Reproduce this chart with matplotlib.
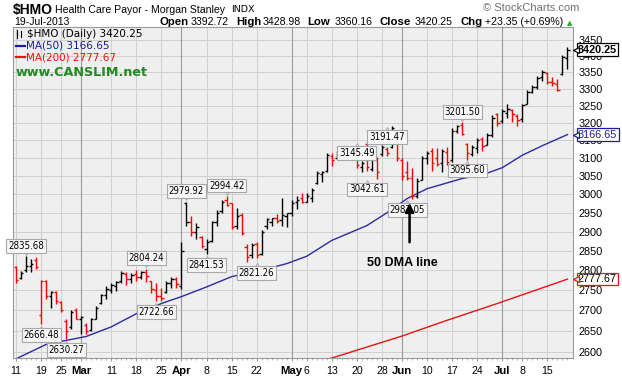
import matplotlib
matplotlib.use('Agg')
import matplotlib.pyplot as plt
import numpy as np
import pandas as pd
from matplotlib.ticker import FixedLocator, FixedFormatter, NullLocator

# ---------------- data ----------------
holidays = ['2013-02-18', '2013-03-29', '2013-05-27', '2013-07-04']
dates = pd.bdate_range('2013-02-11', '2013-07-19')
dates = dates[~dates.isin(pd.to_datetime(holidays))]

prev_close = 2800.0
opens = [2808, 2780, 2800, 2810, 2826, 2689, 2772, 2735, 2745, 2720,
         2675, 2660, 2700, 2680, 2665, 2652, 2680, 2718, 2738, 2750,
         2760, 2772, 2790, 2778, 2790, 2782, 2796, 2772, 2750, 2735,
         2745, 2768, 2778, 2760, 2975, 2925, 2900, 2885, 2855, 2875,
         2925, 2955, 2985, 2975, 2915, 2945, 2860, 2838, 2868, 2842,
         2915, 2925, 2935, 2930, 2940, 2950, 2978, 2990, 2980, 2990,
         3030, 3055, 3065, 3105, 3100, 3110, 3125, 3110, 3100, 3075,
         3140, 3070, 3095, 3110, 3125, 3130, 3175, 3095, 3060, 3045,
         2995, 3040, 3100, 3120, 3100, 3085, 3118, 3095, 3178, 3195,
         3140, 3110, 3128, 3155, 3138, 3165, 3225, 3205, 3230, 3238,
         3220, 3212, 3255, 3290, 3305, 3335, 3348, 3322, 3315, 3345,
         3392.72]
highs = [2811, 2798, 2835.68, 2830, 2833, 2775, 2775, 2749, 2749, 2724,
         2679, 2700, 2705, 2687, 2669, 2682, 2710, 2741, 2761, 2769,
         2774, 2798, 2795, 2792, 2800, 2798, 2804.24, 2774, 2767, 2755,
         2774, 2782, 2782, 2872, 2979.92, 2942, 2924, 2889, 2881, 2929,
         2956, 2983, 2994.42, 2977, 2963, 2950, 2868, 2871, 2873, 2903,
         2937, 2937, 2947, 2991, 2950, 2983, 2994, 3004, 3002, 3016,
         3065, 3065, 3113, 3113, 3121, 3130, 3130, 3121, 3107, 3093,
         3145.49, 3107, 3102, 3136, 3130, 3191.47, 3176, 3099, 3093, 3073,
         3043, 3107, 3121, 3127, 3127, 3126, 3130, 3185, 3195, 3201.50,
         3142, 3137, 3157, 3160, 3171, 3222, 3229, 3242, 3257, 3242,
         3226, 3257, 3296, 3312, 3338, 3357, 3350, 3335, 3330, 3403,
         3428.98]
lows = [2769, 2778, 2795, 2795, 2804, 2666.48, 2729, 2707, 2716, 2695,
        2630.27, 2655, 2678, 2643, 2643, 2650, 2679, 2716, 2729, 2744,
        2749, 2769, 2762, 2769, 2774, 2778, 2770, 2744, 2722.66, 2724,
        2742, 2755, 2755, 2752, 2916, 2889, 2880, 2857, 2841.53, 2872,
        2916, 2950, 2968, 2908, 2908, 2892, 2821.26, 2832, 2832, 2840,
        2908, 2916, 2924, 2916, 2911, 2942, 2961, 2975, 2978, 2980,
        3029, 3032, 3060, 3079, 3099, 3099, 3102, 3099, 3073, 3060,
        3065, 3065, 3042.61, 3107, 3107, 3127, 3093, 3038, 3038, 2987.05,
        2990, 3038, 3084, 3065, 3078, 3060, 3081, 3090, 3170, 3165,
        3095.60, 3105, 3115, 3120, 3137, 3160, 3191, 3200, 3216, 3204,
        3191, 3204, 3255, 3288, 3300, 3325, 3315, 3310, 3293, 3341,
        3360.16]
closes = [2776, 2792, 2812, 2815, 2808, 2772, 2735, 2745, 2724, 2700,
          2650, 2695, 2680, 2684, 2650, 2678, 2706, 2738, 2752, 2762,
          2770, 2792, 2778, 2788, 2782, 2796, 2785, 2752, 2735, 2730,
          2768, 2778, 2765, 2850, 2925, 2900, 2912, 2862, 2872, 2925,
          2950, 2978, 2972, 2912, 2940, 2895, 2835, 2865, 2840, 2898,
          2932, 2935, 2928, 2945, 2948, 2975, 2985, 2980, 2995, 3012,
          3058, 3062, 3108, 3095, 3115, 3125, 3110, 3105, 3080, 3085,
          3075, 3100, 3060, 3132, 3115, 3185, 3100, 3050, 3045, 2995,
          3035, 3100, 3115, 3085, 3082, 3120, 3090, 3178, 3190, 3168,
          3115, 3130, 3150, 3135, 3165, 3215, 3200, 3235, 3240, 3225,
          3210, 3252, 3290, 3305, 3332, 3350, 3322, 3318, 3298, 3396.90,
          3420.25]

ma50_dates = ['2013-02-11', '2013-02-20', '2013-03-04', '2013-03-11', '2013-03-18',
              '2013-03-25', '2013-04-01', '2013-04-08', '2013-04-15', '2013-04-22',
              '2013-04-30', '2013-05-06', '2013-05-13', '2013-05-22', '2013-05-29',
              '2013-06-04', '2013-06-10', '2013-06-19', '2013-06-25', '2013-07-01',
              '2013-07-08', '2013-07-12', '2013-07-19']
ma50_vals = [2584, 2618, 2637, 2660, 2692, 2717, 2734, 2758, 2784, 2797,
             2817, 2836, 2877, 2916, 2950, 2988, 3015, 3043, 3053, 3073,
             3108, 3135, 3166.65]
ma200_dates = ['2013-05-08', '2013-05-13', '2013-06-03', '2013-06-14',
               '2013-06-28', '2013-07-19']
ma200_vals = [2575, 2586, 2638, 2676, 2717, 2777.67]

tick_dates = ['2013-02-11', '2013-02-19', '2013-02-25', '2013-03-01', '2013-03-11',
              '2013-03-18', '2013-03-25', '2013-04-01', '2013-04-08', '2013-04-15',
              '2013-04-22', '2013-05-01', '2013-05-06', '2013-05-13', '2013-05-20',
              '2013-05-28', '2013-06-03', '2013-06-10', '2013-06-17', '2013-06-24',
              '2013-07-01', '2013-07-08', '2013-07-15']
tick_labels = ['11', '19', '25', 'Mar', '11', '18', '25', 'Apr', '8', '15', '22',
               'May', '6', '13', '20', '28', 'Jun', '10', '17', '24', 'Jul', '8', '15']
month_labels = {'Mar', 'Apr', 'May', 'Jun', 'Jul'}

y_ticks = list(range(2600, 3451, 50))

annot_dates = ['2013-02-13', '2013-02-19', '2013-02-26', '2013-03-20', '2013-03-22',
               '2013-04-02', '2013-04-08', '2013-04-12', '2013-04-22', '2013-05-20',
               '2013-05-22', '2013-05-29', '2013-06-04', '2013-06-19', '2013-06-20']
annot_vals = [2835.68, 2666.48, 2630.27, 2804.24, 2722.66, 2979.92, 2841.53, 2994.42,
              2821.26, 3145.49, 3042.61, 3191.47, 2987.05, 3201.50, 3095.60]

# ---------------- figure ----------------
W, H = 622, 378
fig = plt.figure(figsize=(W / 100, H / 100), dpi=100)
fig.patch.set_facecolor('white')

def px(x, y):
    return x / W, 1 - y / H

ax = fig.add_axes([13 / W, (H - 358) / H, 560 / W, 331 / H])
ax.set_facecolor('#efefef')

idx = {d: i for i, d in enumerate(dates.strftime('%Y-%m-%d'))}
n = len(dates)
x = np.arange(n)
o = np.array(opens, float); h = np.array(highs, float)
l = np.array(lows, float); c = np.array(closes, float)
prev = np.concatenate([[prev_close], c[:-1]])
cols = np.where(c >= prev, 'black', '#ff0000')

# grid
ax.set_yscale('log')
ax.set_ylim(2586, 3491)
ax.set_xlim(-0.6, 111.1)
ax.yaxis.set_major_locator(FixedLocator(y_ticks))
ax.yaxis.set_major_formatter(FixedFormatter([str(v) for v in y_ticks]))
ax.yaxis.set_minor_locator(NullLocator())
for v in y_ticks:
    ax.axhline(v, color='#d0d0d0', lw=0.7, zorder=0)
tpos = [idx[d] for d in tick_dates]
for p_, lab in zip(tpos, tick_labels):
    ax.axvline(p_, color='#9a9a9a' if lab in month_labels else '#d0d0d0',
               lw=0.8 if lab in month_labels else 0.7, zorder=0)

# MAs
m50x = [idx[d] for d in ma50_dates]
m200x = [idx[d] for d in ma200_dates]
ax.plot(m50x, ma50_vals, color='#2b2ba6', lw=1.0, zorder=2)
ax.plot(m200x, ma200_vals, color='#ee1111', lw=1.0, zorder=2)

# OHLC bars
ax.vlines(x, l, h, colors=cols, lw=1.0, zorder=3)
ax.hlines(o, x - 0.45, x, colors=cols, lw=1.0, zorder=3)
ax.hlines(c, x, x + 0.45, colors=cols, lw=1.0, zorder=3)

# axes styling
ax.yaxis.tick_right()
ax.tick_params(axis='y', length=0, pad=4, labelsize=7.8)
for t in ax.get_yticklabels():
    t.set_fontfamily('Liberation Sans')
ax.xaxis.set_major_locator(FixedLocator(tpos))
ax.xaxis.set_major_formatter(FixedFormatter(tick_labels))
ax.xaxis.set_minor_locator(FixedLocator(x))
ax.tick_params(axis='x', which='major', length=2, pad=4, labelsize=7.6, color='#999999')
ax.tick_params(axis='x', which='minor', length=1.5, color='#aaaaaa')
for t, lab in zip(ax.get_xticklabels(), tick_labels):
    t.set_fontfamily('Liberation Sans')
    if lab in month_labels:
        t.set_fontweight('bold')
        t.set_fontsize(8.2)
for s in ax.spines.values():
    s.set_color('#9a9a9a')
    s.set_linewidth(0.8)

# price annotations
for d, v in zip(annot_dates, annot_vals):
    i = idx[d]
    above = abs(h[i] - v) < 0.01
    off = 7.6 if above else -7.8
    ax.annotate(f'{v:.2f}', xy=(i, v), xytext=(0, off), textcoords='offset points',
                ha='center', va='center', fontsize=6.9, family='DejaVu Sans',
                stretch='condensed', zorder=6,
                bbox=dict(boxstyle='square,pad=0.18', fc='#f7f7f7', ec='#a8a8a8', lw=0.8))
    ax.plot([i], [v], marker='v' if above else '^', ms=4, mfc='#f7f7f7', mec='#a8a8a8',
            mew=0.7, zorder=5, transform=ax.transData +
            matplotlib.transforms.ScaledTranslation(0, (3.2 if above else -3.2) / 72,
                                                    fig.dpi_scale_trans))

# 50 DMA arrow + text
ax.annotate('', xy=(idx['2013-06-04'] + 0.5, 2984), xycoords='data',
            xytext=(idx['2013-06-04'] + 0.5, 2865),
            arrowprops=dict(arrowstyle='-|>', color='black', lw=1.8, mutation_scale=13),
            zorder=8)
fig.text(*px(402, 263), '50 DMA line', fontsize=9, fontweight='bold',
         family='Liberation Sans', ha='center', va='center')

# last-value boxes on right
for val, txt, ec, tc, fw in [(3420.25, '3420.25', 'black', 'black', 'bold'),
                             (3166.65, '3166.65', '#1c1c9c', '#1c1c9c', 'normal'),
                             (2777.67, '2777.67', '#ee1111', 'black', 'normal')]:
    ax.annotate(txt, xy=(1.0, val), xycoords=('axes fraction', 'data'),
                xytext=(3.5, 0), textcoords='offset points', ha='left', va='center',
                fontsize=7.8, fontweight=fw, family='Liberation Sans', color=tc,
                annotation_clip=False, zorder=9,
                bbox=dict(boxstyle='square,pad=0.12', fc='white', ec=ec, lw=0.9))
    ax.plot([1.0], [val], marker='<', ms=5, mfc='white', mec=ec, mew=0.9,
            transform=matplotlib.transforms.blended_transform_factory(ax.transAxes, ax.transData)
            + matplotlib.transforms.ScaledTranslation(1.8 / 72, 0, fig.dpi_scale_trans),
            clip_on=False, zorder=10)

# header texts
fig.text(*px(13, 10), '\\$HMO', fontsize=10, fontweight='bold', family='Liberation Sans',
         va='center', ha='left')
fig.text(*px(55, 10), 'Health Care Payor - Morgan Stanley', fontsize=7.6,
         family='Liberation Sans', va='center', ha='left')
fig.text(*px(231, 10), 'INDX', fontsize=6.8, family='DejaVu Sans', va='center', ha='left')
fig.text(*px(483, 8), '\u00a9 StockCharts.com', fontsize=8, family='Liberation Sans',
         color='#707070', va='center', ha='left')
fig.text(*px(14, 22), '19-Jul-2013', fontsize=7.5, family='Liberation Sans',
         va='center', ha='left')
hdr = [(159, 'Open', 'bold'), (191, '3392.72', 'normal'), (236, 'High', 'bold'),
       (263, '3428.98', 'normal'), (307, 'Low', 'bold'), (335, '3360.16', 'normal'),
       (380, 'Close', 'bold'), (415, '3420.25', 'normal'), (460, 'Chg', 'bold'),
       (485, '+23.35 (+0.69%)', 'normal')]
for xx, tt, fw in hdr:
    fig.text(*px(xx, 22), tt, fontsize=8.2 if fw == 'bold' else 7.6, fontweight=fw,
             family='Liberation Sans', va='center', ha='left')
fig.text(*px(570, 23), '\u25b2', fontsize=5, color='#22aa22', va='center', ha='center',
         family='DejaVu Sans')

# legend inside plot
fig.add_artist(plt.Line2D([17 / W, 17 / W], [1 - 30 / H, 1 - 38 / H], color='black', lw=0.8))
fig.add_artist(plt.Line2D([21 / W, 21 / W], [1 - 31 / H, 1 - 37 / H], color='black', lw=0.8))
fig.text(*px(27, 34), '\\$HMO (Daily) 3420.25', fontsize=7.5, family='DejaVu Sans',
         va='center', ha='left')
fig.add_artist(plt.Line2D([16 / W, 25 / W], [1 - 46 / H, 1 - 46 / H], color='#1c1c9c', lw=1.6))
fig.text(*px(26, 46), 'MA(50) 3166.65', fontsize=7.5, family='DejaVu Sans',
         color='#1c1c9c', va='center', ha='left')
fig.add_artist(plt.Line2D([16 / W, 25 / W], [1 - 57 / H, 1 - 57 / H], color='#ee1111', lw=1.6))
fig.text(*px(26, 57), 'MA(200) 2777.67', fontsize=7.5, family='DejaVu Sans',
         color='#ee1111', va='center', ha='left')
fig.text(*px(16, 72), 'www.CANSLIM.net', fontsize=9.2, fontweight='bold',
         family='DejaVu Sans', color='#1f8a1f', va='center', ha='left')

fig.savefig('out.png', dpi=100)
